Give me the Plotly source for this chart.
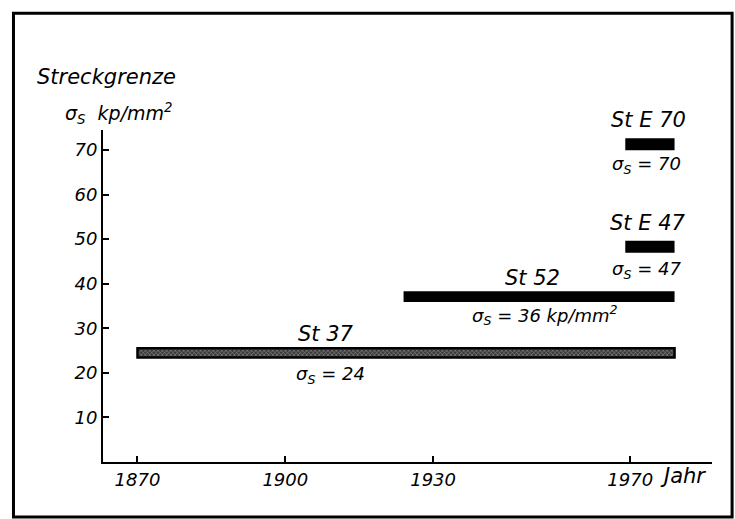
import plotly.graph_objects as go

# --- data ---
steels = ["St 37", "St 52", "St E 47", "St E 70"]
start_year = [1870, 1924, 1969, 1969]
end_year = [1979, 1979, 1979, 1979]
yield_strength = [24.5, 37.1, 48.3, 71.3]
strength_labels = ["σ<sub>S</sub> = 24", "σ<sub>S</sub> = 36 kp/mm<sup>2</sup>",
                   "σ<sub>S</sub> = 47", "σ<sub>S</sub> = 70"]
x_ticks = [1870, 1900, 1930, 1970]
y_ticks = [10, 20, 30, 40, 50, 60, 70]

FONT = "DejaVu Sans"
fig = go.Figure()

bar_width = [2.1, 2.4, 2.7, 2.7]
for i, name in enumerate(steels):
    if i == 0:
        marker = dict(color="#444444",
                      line=dict(color="black", width=2.5),
                      pattern=dict(shape="x", fgcolor="#e8e8e8", bgcolor="#3a3a3a",
                                   size=3, solidity=0.35))
    else:
        marker = dict(color="black", line=dict(color="black", width=0))
    fig.add_trace(go.Bar(
        y=[yield_strength[i]], x=[end_year[i] - start_year[i]], base=[start_year[i]],
        orientation="h", width=[bar_width[i]], marker=marker, name=name,
        showlegend=False, hoverinfo="skip"))

# labels (paper coordinates of the plot area)
name_pos = [(0.366, 0.386), (0.706, 0.554), (0.895, 0.720), (0.895, 1.030)]
val_pos = [(0.373, 0.262), (0.726, 0.443), (0.893, 0.578), (0.892, 0.895)]


def label(x, y, text, size, xanchor="center"):
    fig.add_annotation(xref="paper", yref="paper", x=x, y=y, text=text,
                       showarrow=False, xanchor=xanchor, yanchor="middle",
                       font=dict(family=FONT, size=size, color="black", style="italic"))


for i, name in enumerate(steels):
    label(name_pos[i][0], name_pos[i][1], name, 21)
    label(val_pos[i][0], val_pos[i][1], strength_labels[i], 18)

label(0.952, -0.042, "Jahr", 21)
label(-0.112, 1.160, "Streckgrenze", 21, xanchor="left")
label(-0.066, 1.050, "σ<sub>S</sub>  kp/mm<sup>2</sup>", 19, xanchor="left")

# frame around the figure
fig.add_shape(type="rect", xref="paper", yref="paper",
              x0=-0.147, x1=1.033, y0=-0.166, y1=1.352,
              line=dict(color="black", width=3), layer="below")

fig.update_layout(
    width=735, height=519,
    margin=dict(l=103, r=23, t=130, b=57),
    paper_bgcolor="white", plot_bgcolor="white",
    barmode="overlay",
    xaxis=dict(range=[1863.0, 1986.6], tickvals=x_ticks, ticktext=[str(v) for v in x_ticks],
               showline=True, linecolor="black", linewidth=2, ticks="inside",
               ticklen=6, tickwidth=1.5, tickcolor="black", showgrid=False, zeroline=False,
               tickfont=dict(family=FONT, size=18, color="black", style="italic")),
    yaxis=dict(range=[0, 74.5], tickvals=y_ticks, showline=True, linecolor="black",
               linewidth=2, ticks="inside", ticklen=6, tickwidth=1.5, tickcolor="black",
               showgrid=False, zeroline=False,
               tickfont=dict(family=FONT, size=18, color="black", style="italic")),
)

fig.write_html("out.html", config={"displayModeBar": False},
               post_script="document.body.style.margin='0px';")
